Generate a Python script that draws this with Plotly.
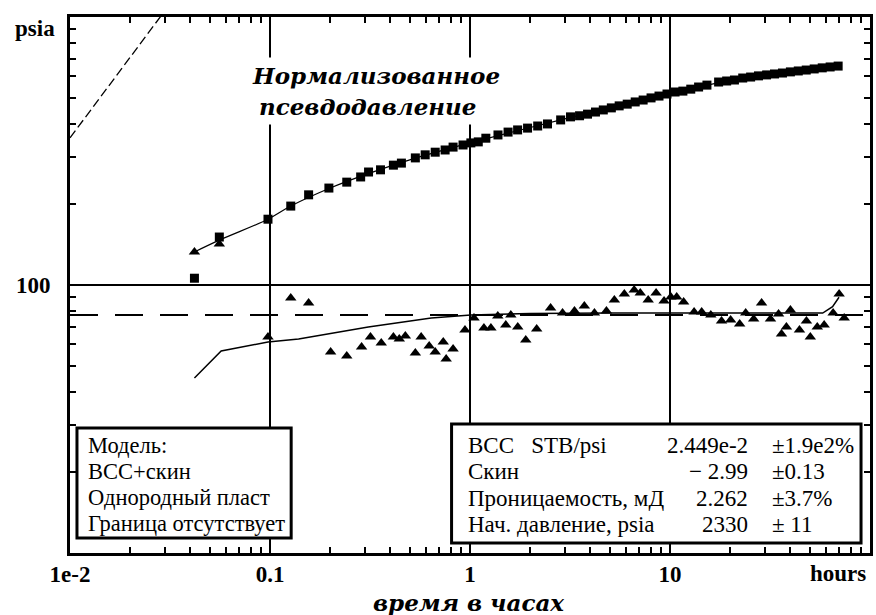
import plotly.graph_objects as go

# ---------------- data ----------------
t_sq = [0.0419, 0.0558, 0.0977, 0.127, 0.156, 0.197, 0.242, 0.284, 0.311, 0.357,
        0.414, 0.454, 0.533, 0.597, 0.670, 0.751, 0.823, 0.923, 1.01, 1.10,
        1.20, 1.38, 1.55, 1.73, 1.94, 2.18, 2.44, 2.84, 3.18, 3.53,
        3.87, 4.24, 4.64, 5.09, 5.57, 6.11, 6.70, 7.34, 8.04, 8.81,
        9.66, 10.6, 11.6, 12.7, 13.9, 15.3, 17.5, 19.2, 21.0, 23.1,
        25.3, 27.7, 30.4, 33.3, 36.5, 40.0, 43.8, 48.0, 52.6, 57.7,
        63.2, 69.3]
p_sq = [106, 151, 176, 197, 217, 230, 242, 253, 264, 269,
        280, 285, 298, 306, 313, 319, 327, 333, 339, 342,
        353, 363, 372, 379, 385, 392, 399, 413, 424, 428,
        434, 442, 450, 458, 466, 473, 482, 490, 499, 507,
        516, 525, 529, 538, 548, 557, 572, 577, 582, 592,
        597, 603, 608, 613, 618, 624, 629, 634, 640, 646,
        651, 656]

t_tri = [0.0419, 0.0558, 0.0977, 0.127, 0.156, 0.201, 0.242, 0.287, 0.318, 0.360,
         0.414, 0.443, 0.475, 0.533, 0.570, 0.625, 0.670, 0.735, 0.760, 0.823,
         0.944, 1.047, 1.174, 1.272, 1.377, 1.510, 1.600, 1.733, 1.900, 2.155,
         2.529, 2.902, 3.33, 3.73, 4.19, 4.81, 5.27, 5.91, 6.62, 7.10,
         7.78, 8.52, 9.34, 10.1, 10.8, 11.7, 13.2, 14.4, 16.0, 18.1,
         20.1, 22.3, 23.9, 26.2, 28.7, 31.8, 34.9, 36.1, 38.2, 40.0,
         44.4, 48.1, 50.3, 54.5, 59.0, 65.4, 70.1, 74.3]
p_tri = [132.8, 142.2, 64.0, 89.4, 85.7, 56.2, 54.3, 58.7, 64.0, 60.8,
         64.0, 62.9, 64.5, 55.7, 64.0, 59.2, 56.2, 61.3, 52.9, 57.7,
         67.9, 75.3, 69.1, 69.1, 76.6, 70.9, 77.3, 69.7, 62.3, 68.5,
         82.1, 78.6, 80.0, 83.5, 78.6, 80.0, 87.9, 92.6, 95.8, 93.3,
         87.9, 93.3, 87.2, 90.2, 90.2, 86.4, 79.3, 79.3, 77.3, 73.4,
         74.0, 71.5, 78.6, 74.6, 85.7, 74.6, 77.9, 65.6, 69.7, 80.7,
         67.9, 73.4, 64.0, 69.7, 70.9, 78.6, 92.6, 75.3]

t_model_p = [0.0419, 0.0558, 0.0977, 0.127, 0.2, 0.3, 0.5, 1, 2, 5, 10, 20, 40, 70]
p_model_p = [132.8, 147, 176, 197, 230, 258, 293, 339, 387, 458, 516, 580, 624, 656]

t_model_d = [0.0419, 0.057, 0.0977, 0.139, 0.310, 0.640, 1.01, 2.0, 5.0, 10, 20, 40, 58, 65, 70]
p_model_d = [45.0, 56.7, 61.3, 62.9, 69.7, 75.3, 77.3, 78.3, 78.6, 78.6, 78.6, 78.4, 78.6, 83, 90]

t_slope = [0.01, 0.03]
p_slope = [354, 1062]

t_iarf = [0.01, 100]
p_iarf = [77.3, 77.3]

x_tickvals = [0.01, 0.1, 1, 10, 100]
x_ticktext = ["1e-2", "0.1", "1", "10", ""]
y_tickvals = [10, 100, 1000]
y_ticktext = ["", "100", ""]

caption_lines = ["Нормализованное", "псевдодавление"]
model_lines = ["Модель:", "BCC+скин", "Однородный пласт", "Граница отсутствует"]
res_labels = ["BCC   STB/psi", "Скин", "Проницаемость, мД", "Нач. давление, psia"]
res_values = ["2.449e-2", "− 2.99", "2.262", "2330"]
res_errors = ["±1.9e2%", "±0.13", "±3.7%", "± 11"]

# ---------------- figure ----------------
W, H = 876, 615
ML, MR, MT, MB = 70, 3, 17, 62
PW, PH = W - ML - MR, H - MT - MB


def px(x):
    return (x - ML) / PW


def py(y):
    return (MT + PH - y) / PH


SERIF = "Liberation Serif"
DECO = "DejaVu Serif"

fig = go.Figure()
fig.add_trace(go.Scatter(x=t_iarf, y=p_iarf, mode="lines",
                         line=dict(color="black", width=2, dash="28px,17px"),
                         hoverinfo="skip"))
fig.add_trace(go.Scatter(x=t_slope, y=p_slope, mode="lines",
                         line=dict(color="black", width=1.3, dash="9px,4px"),
                         hoverinfo="skip"))
fig.add_trace(go.Scatter(x=t_model_p, y=p_model_p, mode="lines",
                         line=dict(color="black", width=1.2, shape="spline"),
                         hoverinfo="skip"))
fig.add_trace(go.Scatter(x=t_model_d, y=p_model_d, mode="lines",
                         line=dict(color="black", width=1.5),
                         hoverinfo="skip"))
fig.add_trace(go.Scatter(x=t_sq, y=p_sq, mode="markers",
                         marker=dict(symbol="square", size=9, color="black")))
fig.add_trace(go.Scatter(x=t_tri, y=p_tri, mode="markers",
                         marker=dict(symbol="triangle-up", size=10, color="black")))

axis_common = dict(
    type="log", showline=True, linecolor="black", linewidth=3, mirror="ticks",
    ticks="inside", ticklen=8, tickwidth=2, tickcolor="black",
    showgrid=True, gridcolor="black", gridwidth=1.6, zeroline=False,
    tickfont=dict(family=SERIF, size=23, color="black", weight="bold"),
    minor=dict(ticks="inside", ticklen=6, tickwidth=2, tickcolor="black",
               dtick="D1", showgrid=False),
)

fig.update_layout(
    width=W, height=H,
    margin=dict(l=ML, r=MR, t=MT, b=MB),
    paper_bgcolor="white", plot_bgcolor="white",
    showlegend=False,
    font=dict(family=SERIF, color="black"),
    xaxis=dict(axis_common, range=[-2, 2], tickvals=x_tickvals, ticktext=x_ticktext,
               ticklabelstandoff=-2),
    yaxis=dict(axis_common, range=[1, 3], tickvals=y_tickvals, ticktext=y_ticktext,
               ticklabelstandoff=12),
)

ann = []
# chart caption with white background
cap_y = [75, 107]
cap_x = [248, 255]
for i, s in enumerate(caption_lines):
    ann.append(dict(xref="paper", yref="paper", x=px(cap_x[i]), y=py(cap_y[i]),
                    xanchor="left", yanchor="middle",
                    text="<i><b>%s</b></i>" % s, showarrow=False, bgcolor="white",
                    borderpad=4,
                    font=dict(family=DECO, size=23, color="black")))
# psia / hours / x title
ann.append(dict(xref="paper", yref="paper", x=px(57), y=py(29), xanchor="right", yanchor="middle",
                text="<b>psia</b>", showarrow=False,
                font=dict(family=SERIF, size=23, color="black")))
ann.append(dict(xref="paper", yref="paper", x=px(871), y=py(573), xanchor="right", yanchor="middle",
                text="<b>hours</b>", showarrow=False,
                font=dict(family=SERIF, size=23, color="black")))
ann.append(dict(xref="paper", yref="paper", x=px(470), y=py(602), xanchor="center", yanchor="middle",
                text="<i><b>время в часах</b></i>", showarrow=False,
                font=dict(family=DECO, size=23, color="black")))

# left box text
for i, s in enumerate(model_lines):
    ann.append(dict(xref="paper", yref="paper", x=px(86), y=py(445 + 26 * i),
                    xanchor="left", yanchor="middle", text=s, showarrow=False,
                    font=dict(family=SERIF, size=22.5, color="black")))
# right box text
for i in range(4):
    yy = py(445 + 26.5 * i)
    ann.append(dict(xref="paper", yref="paper", x=px(467), y=yy, xanchor="left", yanchor="middle",
                    text=res_labels[i], showarrow=False,
                    font=dict(family=SERIF, size=23, color="black")))
    ann.append(dict(xref="paper", yref="paper", x=px(753), y=yy, xanchor="right", yanchor="middle",
                    text=res_values[i], showarrow=False,
                    font=dict(family=SERIF, size=23, color="black")))
    ann.append(dict(xref="paper", yref="paper", x=px(773), y=yy, xanchor="left", yanchor="middle",
                    text=res_errors[i], showarrow=False,
                    font=dict(family=SERIF, size=23, color="black")))
fig.update_layout(annotations=ann)

shapes = [
    dict(type="rect", xref="paper", yref="paper", x0=px(77), x1=px(292), y0=py(538), y1=py(428),
         fillcolor="white", line=dict(color="black", width=3), layer="above"),
    dict(type="rect", xref="paper", yref="paper", x0=px(453), x1=px(864), y0=py(543), y1=py(424),
         fillcolor="white", line=dict(color="black", width=3), layer="above"),
]
fig.update_layout(shapes=shapes)

fig.write_html("out.html", config={"displayModeBar": False},
               post_script="document.body.style.margin='0';document.body.style.overflow='hidden';")
